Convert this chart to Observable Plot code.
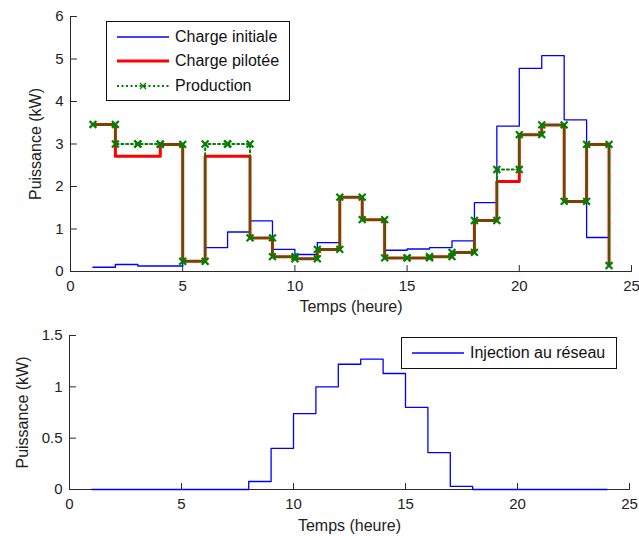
<!DOCTYPE html>
<html><head><meta charset="utf-8">
<script src="https://cdn.jsdelivr.net/npm/d3@7"></script>
<script src="https://cdn.jsdelivr.net/npm/@observablehq/plot@0.6"></script>
<style>
body{margin:0;background:#fff;}
#wrap{position:relative;width:639px;height:536px;font-family:"Liberation Sans",Arial,sans-serif;}
#wrap svg{display:block;}
.legend{position:absolute;border:1px solid #111;background:#fff;box-sizing:border-box;font-size:16px;color:#111;}
.row{position:absolute;height:20px;display:flex;align-items:center;white-space:nowrap;}
.row svg{margin-right:6px;}
</style></head><body><div id="wrap"></div>
<script>
// ---- data ----
const hours = [1,2,3,4,5,6,7,8,9,10,11,12,13,14,15,16,17,18,19,20,21,22,23,24];
const chargeInitiale = [0.10,0.165,0.13,0.13,0.25,0.56,0.93,1.19,0.52,0.40,0.68,1.75,1.22,0.50,0.53,0.56,0.72,1.62,3.42,4.78,5.08,3.57,0.80,0.80];
const chargePilotee  = [3.46,2.71,2.71,2.99,0.24,2.71,2.71,0.79,0.35,0.30,0.52,1.75,1.22,0.32,0.32,0.35,0.45,1.20,2.12,3.22,3.45,1.65,2.99,0.14];
const production     = [3.46,3.00,3.00,2.99,0.24,3.00,3.00,0.79,0.35,0.30,0.52,1.75,1.22,0.32,0.32,0.35,0.45,1.20,2.40,3.22,3.45,1.65,2.99,0.14];
const injection      = [0,0,0,0,0,0,0,0.078,0.40,0.74,1.00,1.22,1.27,1.13,0.80,0.36,0.03,0,0,0,0,0,0,0];
const xTicks = [0,5,10,15,20,25];
const yTicksTop = [0,1,2,3,4,5,6];
const yTicksBottom = [0,0.5,1,1.5];
const seriesNames = ["Charge initiale","Charge pilotée","Production"];
const bottomName = "Injection au réseau";
const xLabel = "Temps (heure)";
const yLabel = "Puissance (kW)";

// ---- styles ----
const BLUE = "#0000ff", RED = "#ff0000", GREEN = "#008000", AX = "#2a2a2a";
const FONT = "'Liberation Sans', Arial, sans-serif";
const tickShape = {draw(ctx, l){ ctx.moveTo(0,0); ctx.lineTo(0,-l); }};
const fmt = d => String(d);

// stairs vertices for the markers
const stairVertices = (xs, ys) => {
  const out = [];
  xs.forEach((x, i) => {
    if (i > 0) out.push({x, y: ys[i-1]});
    out.push({x, y: ys[i]});
  });
  return out;
};

function axisMarks(yTicks, yLabelDx, xLabelDy) {
  return [
    Plot.ruleY([0], {stroke: AX, strokeWidth: 1}),
    Plot.ruleX([0], {stroke: AX, strokeWidth: 1}),
    Plot.vector(xTicks, {x: d => d, frameAnchor: "bottom", length: 6, rotate: 0, anchor: "start", shape: tickShape, stroke: AX, strokeWidth: 1}),
    Plot.vector(yTicks, {y: d => d, frameAnchor: "left", length: 6, rotate: 90, anchor: "start", shape: tickShape, stroke: AX, strokeWidth: 1}),
    Plot.axisX(xTicks, {tickSize: 0, tickPadding: 9, fontSize: 15, label: null, fill: "#222", tickFormat: fmt}),
    Plot.axisY(yTicks, {tickSize: 0, tickPadding: 7, fontSize: 15, label: null, fill: "#222", tickFormat: fmt}),
    Plot.text([xLabel], {text: d => d, frameAnchor: "bottom", dy: xLabelDy, fontSize: 16, fill: "#222", lineAnchor: "middle"}),
    Plot.text([yLabel], {text: d => d, frameAnchor: "left", dx: yLabelDx, rotate: -90, fontSize: 16, fill: "#222", lineAnchor: "middle", textAnchor: "middle"})
  ];
}

const topChart = Plot.plot({
  width: 639, height: 320,
  marginLeft: 70, marginRight: 8, marginTop: 16, marginBottom: 49,
  style: {fontFamily: FONT, background: "#fff", overflow: "visible"},
  x: {domain: [0, 25]},
  y: {domain: [0, 6]},
  marks: [
    ...axisMarks(yTicksTop, -34.5, 35),
    Plot.line(hours, {x: hours, y: chargeInitiale, curve: "step-after", stroke: BLUE, strokeWidth: 1.3}),
    Plot.line(hours, {x: hours, y: chargePilotee, curve: "step-after", stroke: RED, strokeWidth: 3}),
    Plot.line(hours, {x: hours, y: production, curve: "step-after", stroke: GREEN, strokeWidth: 2, strokeDasharray: "2,2.8"}),
    Plot.dot(stairVertices(hours, production), {x: "x", y: "y", symbol: "times", r: 3.2, stroke: GREEN, strokeWidth: 2.2})
  ]
});

const bottomChart = Plot.plot({
  width: 639, height: 216,
  marginLeft: 69, marginRight: 10, marginTop: 15, marginBottom: 47,
  style: {fontFamily: FONT, background: "#fff", overflow: "visible"},
  x: {domain: [0, 25]},
  y: {domain: [0, 1.5]},
  marks: [
    ...axisMarks(yTicksBottom, -47, 36),
    Plot.line(hours, {x: hours, y: injection, curve: "step-after", stroke: BLUE, strokeWidth: 1.3})
  ]
});

const wrap = document.getElementById("wrap");
wrap.append(topChart, bottomChart);

// ---- legends ----
function sample(kind) {
  const ns = "http://www.w3.org/2000/svg";
  const s = document.createElementNS(ns, "svg");
  s.setAttribute("width", 52); s.setAttribute("height", 12);
  const line = (stroke, w, dash) => {
    const l = document.createElementNS(ns, "line");
    l.setAttribute("x1", 0); l.setAttribute("x2", 52); l.setAttribute("y1", 6); l.setAttribute("y2", 6);
    l.setAttribute("stroke", stroke); l.setAttribute("stroke-width", w);
    if (dash) l.setAttribute("stroke-dasharray", dash);
    s.append(l);
  };
  if (kind === 0) line(BLUE, 1.3);
  if (kind === 1) line(RED, 3);
  if (kind === 2) {
    line(GREEN, 2, "2,2.5");
    const p = document.createElementNS(ns, "path");
    p.setAttribute("d", "M23,3L29,9M29,3L23,9");
    p.setAttribute("stroke", GREEN); p.setAttribute("stroke-width", 1.3);
    s.append(p);
  }
  return s;
}
function legend(left, topPx, w, h, names, kinds, rowTops, padLeft) {
  const box = document.createElement("div");
  box.className = "legend";
  Object.assign(box.style, {left: left + "px", top: topPx + "px", width: w + "px", height: h + "px"});
  names.forEach((n, i) => {
    const r = document.createElement("div");
    r.className = "row";
    r.style.left = padLeft + "px";
    r.style.top = rowTops[i] + "px";
    r.append(sample(kinds[i]), document.createTextNode(n));
    box.append(r);
  });
  wrap.append(box);
}
legend(106, 21, 184, 80, seriesNames, [0,1,2], [5, 29, 54], 10);
legend(401, 337, 216, 32, [bottomName], [0], [5], 10);
</script></body></html>
